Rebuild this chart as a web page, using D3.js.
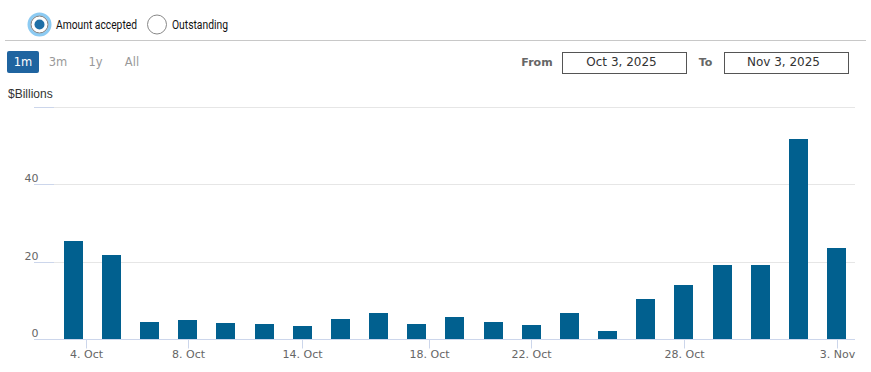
<!DOCTYPE html>
<html>
<head>
<meta charset="utf-8">
<script src="https://cdn.jsdelivr.net/npm/d3@7"></script>
<style>
    body { margin: 0; background: #fff; }
    svg { display: block; }
</style>
</head>
<body>
<svg id="chart" width="871" height="372"></svg>
<script>
// trading days in the selected month (weekends and holidays are skipped)
const dates = ["2025-10-03", "2025-10-06", "2025-10-07", "2025-10-08", "2025-10-09", "2025-10-10",
    "2025-10-14", "2025-10-15", "2025-10-16", "2025-10-17", "2025-10-20", "2025-10-21",
    "2025-10-22", "2025-10-23", "2025-10-24", "2025-10-27", "2025-10-28", "2025-10-29",
    "2025-10-30", "2025-10-31", "2025-11-03"];

// amount accepted, $ billions
const amounts = [25.2, 21.6, 4.4, 4.9, 4.2, 3.9, 3.4, 5.2, 6.8, 3.9, 5.7, 4.4,
    3.6, 6.8, 2.1, 10.4, 14.0, 19.2, 19.0, 51.5, 23.6];

// x axis ticks
const tickDates = ["2025-10-04", "2025-10-08", "2025-10-14", "2025-10-18", "2025-10-22", "2025-10-28", "2025-11-03"];
const tickLabels = ["4. Oct", "8. Oct", "14. Oct", "18. Oct", "22. Oct", "28. Oct", "3. Nov"];

// y axis ticks (the top one has no label)
const yTicks = [0, 20, 40, 60];
const yLabels = ["0", "20", "40", ""];

// controls
const seriesNames = ["Amount accepted", "Outstanding"];
const rangeButtons = ["1m", "3m", "1y", "All"];
const fromDate = "Oct 3, 2025";
const toDate = "Nov 3, 2025";

const parse = d3.timeParse("%Y-%m-%d");
const days = dates.map(parse);

let svg = d3.select("#chart");

const plotLeft = 34, plotRight = 855;
const barWidth = 19;

//ordinal x axis: each trading day gets one slot
let x = d3.scaleLinear().domain([0, days.length - 1]).range([73.3, 836.5]);
let y = d3.scaleLinear().domain([0, 60]).range([339, 106.5]);

//a calendar date that falls between two trading days is interpolated between the slots
function ordinalIndex(date) {
    let t = parse(date);
    for (let i = 0; i < days.length - 1; i++) {
        if (t >= days[i] && t < days[i + 1]) {
            return i + (t - days[i]) / (days[i + 1] - days[i]);
        }
    }
    return days.length - 1;
}

// ---- series selector ----
let radios = svg.append("g");

radios.append("circle").attr("cx", 39.5).attr("cy", 24.5).attr("r", 10.5)
    .attr("fill", "#fff").attr("stroke", "#8ccbf3").attr("stroke-width", 3);
radios.append("circle").attr("cx", 39.5).attr("cy", 24.5).attr("r", 8.5)
    .attr("fill", "#fff").attr("stroke", "#555").attr("stroke-width", 0.8);
radios.append("circle").attr("cx", 39.5).attr("cy", 24.5).attr("r", 5)
    .attr("fill", "#1f6fa6");
radios.append("text").attr("x", 56).attr("y", 29)
    .attr("textLength", 81).attr("lengthAdjust", "spacingAndGlyphs")
    .style("font", "12px Roboto").attr("fill", "#111").text(seriesNames[0]);

radios.append("circle").attr("cx", 157).attr("cy", 24.5).attr("r", 9.5)
    .attr("fill", "#fff").attr("stroke", "#888").attr("stroke-width", 1);
radios.append("text").attr("x", 172).attr("y", 29)
    .attr("textLength", 56).attr("lengthAdjust", "spacingAndGlyphs")
    .style("font", "12px Roboto").attr("fill", "#111").text(seriesNames[1]);

svg.append("line").attr("x1", 5).attr("x2", 866).attr("y1", 40.5).attr("y2", 40.5)
    .attr("stroke", "#c8c8c8");

// ---- range selector ----
const buttonCenters = [23, 58, 95.5, 132];
let buttons = svg.append("g").style("font", "11.5px 'DejaVu Sans'");

buttons.append("rect").attr("x", 7).attr("y", 51).attr("width", 32).attr("height", 22)
    .attr("rx", 2).attr("fill", "#1f64a0");

buttons.selectAll("text").data(rangeButtons).enter().append("text")
    .attr("x", (d, i) => buttonCenters[i])
    .attr("y", 65.5)
    .attr("text-anchor", "middle")
    .attr("fill", (d, i) => i == 0 ? "#fff" : "#999")
    .text(d => d);

// ---- date inputs ----
let inputs = svg.append("g");

inputs.append("text").attr("x", 537).attr("y", 65.5).attr("text-anchor", "middle")
    .style("font", "bold 11px 'DejaVu Sans'").attr("fill", "#666").text("From");
inputs.append("text").attr("x", 705.5).attr("y", 65.5).attr("text-anchor", "middle")
    .style("font", "bold 11px 'DejaVu Sans'").attr("fill", "#666").text("To");

[[562.5, fromDate], [724.5, toDate]].forEach(([bx, label]) => {
    inputs.append("rect").attr("x", bx).attr("y", 52.5).attr("width", 124).attr("height", 21)
        .attr("fill", "#fff").attr("stroke", "#555");
    inputs.append("text").attr("x", bx + 59).attr("y", 66)
        .attr("text-anchor", "middle")
        .style("font", "12px 'DejaVu Sans'").attr("fill", "#333").text(label);
});

// ---- axis title ----
svg.append("text").attr("x", 8).attr("y", 98)
    .style("font", "12px 'Liberation Sans', Arial").attr("fill", "#333").text("$Billions");

// ---- grid + y axis ----
let grid = svg.append("g");

grid.selectAll("line.grid").data(yTicks.slice(1)).enter().append("line")
    .attr("class", "grid")
    .attr("x1", plotLeft).attr("x2", plotRight)
    .attr("y1", d => Math.round(y(d)) + 0.5).attr("y2", d => Math.round(y(d)) + 0.5)
    .attr("stroke", "#e6e6e6");

grid.selectAll("line.ytick").data(yTicks.slice(1)).enter().append("line")
    .attr("class", "ytick")
    .attr("x1", plotLeft).attr("x2", plotLeft + 20)
    .attr("y1", d => Math.round(y(d)) + 0.5).attr("y2", d => Math.round(y(d)) + 0.5)
    .attr("stroke", "#ccd6eb");

grid.selectAll("text").data(yTicks).enter().append("text")
    .attr("x", 38.5)
    .attr("y", d => Math.round(y(d)) - 2)
    .attr("text-anchor", "end")
    .style("font", "11px 'DejaVu Sans'")
    .attr("fill", "#666")
    .text((d, i) => yLabels[i]);

// ---- bars ----
svg.append("g").selectAll("rect").data(amounts).enter().append("rect")
    .attr("x", (d, i) => Math.round(x(i) - barWidth / 2))
    .attr("y", d => Math.round(y(d)))
    .attr("width", barWidth)
    .attr("height", d => Math.round(y(0)) - Math.round(y(d)))
    .attr("fill", "#01608f");

// ---- x axis ----
let xAxis = svg.append("g");
let baseline = Math.round(y(0)) + 0.5;

xAxis.append("line").attr("x1", plotLeft).attr("x2", plotRight)
    .attr("y1", baseline).attr("y2", baseline).attr("stroke", "#ccd6eb");

let ticks = xAxis.selectAll("g.tick").data(tickDates).enter().append("g")
    .attr("class", "tick")
    .attr("transform", d => "translate(" + (Math.round(x(ordinalIndex(d))) + 0.5) + ",0)");

ticks.append("line").attr("y1", baseline).attr("y2", baseline + 9).attr("stroke", "#ccd6eb");
ticks.append("text").attr("y", 358).attr("text-anchor", "middle")
    .style("font", "11px 'DejaVu Sans'").attr("fill", "#666")
    .text((d, i) => tickLabels[i]);
</script>
</body>
</html>
